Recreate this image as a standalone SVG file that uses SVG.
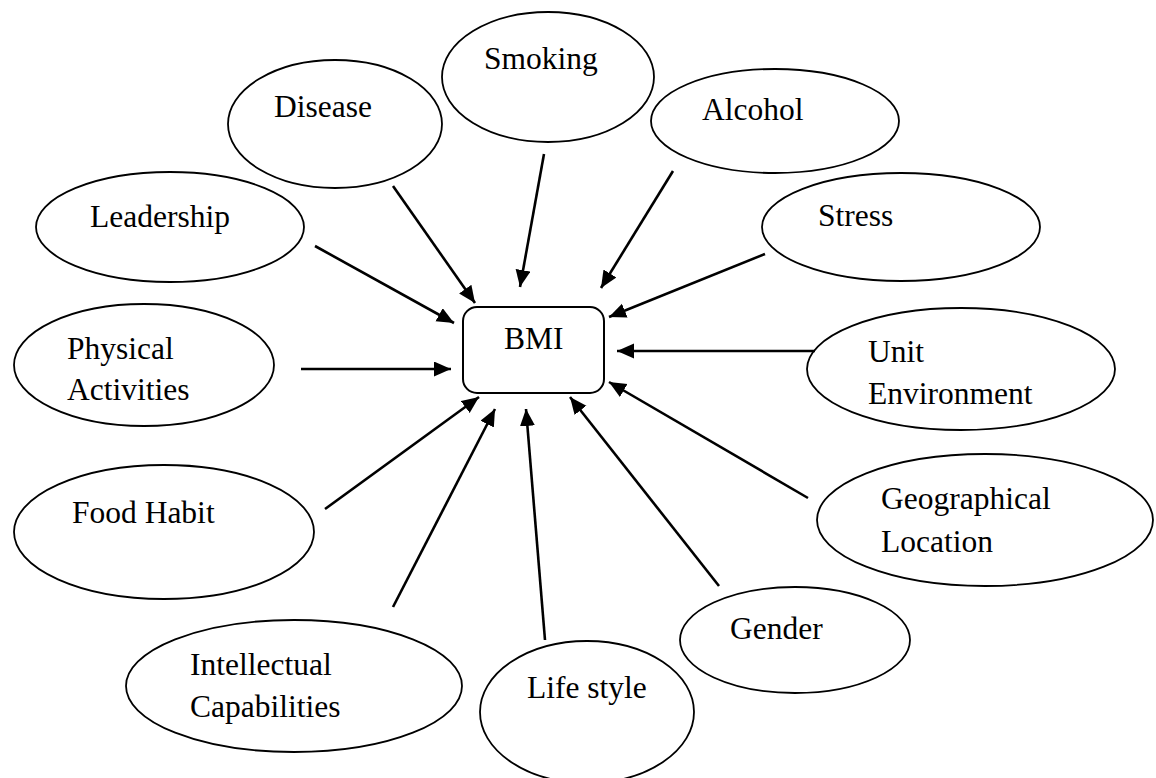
<svg xmlns="http://www.w3.org/2000/svg" width="1156" height="778" viewBox="0 0 1156 778">
<style>
.n ellipse{fill:#fff;stroke:#000;stroke-width:1.8}
.box{fill:#fff;stroke:#000;stroke-width:2}
text{font-family:"Liberation Serif","Times New Roman",serif;font-size:31.5px;fill:#000}
.c line{stroke:#000;stroke-width:2.6;marker-end:url(#ah)}
</style>
<defs>
<marker id="ah" markerUnits="userSpaceOnUse" markerWidth="18" markerHeight="16" refX="17" refY="7.5" orient="auto">
<path d="M0,0 L17,7.5 L0,15 z" fill="#000"/>
</marker>
</defs>
<rect width="1156" height="778" fill="#fff"/>
<g id="node-smoking" class="n"><ellipse cx="548" cy="77" rx="106" ry="65"/><text x="484" y="69">Smoking</text></g>
<g id="node-disease" class="n"><ellipse cx="335" cy="124" rx="107" ry="64"/><text x="274" y="117">Disease</text></g>
<g id="node-alcohol" class="n"><ellipse cx="775" cy="121" rx="124" ry="52"/><text x="702" y="120">Alcohol</text></g>
<g id="node-leadership" class="n"><ellipse cx="170" cy="227" rx="134" ry="55"/><text x="90" y="227">Leadership</text></g>
<g id="node-stress" class="n"><ellipse cx="901" cy="227" rx="139" ry="54"/><text x="818" y="226">Stress</text></g>
<g id="node-physical" class="n"><ellipse cx="144" cy="365" rx="130" ry="61"/><text x="67" y="359">Physical</text><text x="67" y="400">Activities</text></g>
<g id="node-unit" class="n"><ellipse cx="961" cy="369" rx="154" ry="61"/><text x="868" y="362">Unit</text><text x="868" y="404">Environment</text></g>
<g id="node-food" class="n"><ellipse cx="164" cy="532" rx="150" ry="67"/><text x="72" y="523">Food Habit</text></g>
<g id="node-geo" class="n"><ellipse cx="985" cy="520" rx="168" ry="66"/><text x="881" y="509">Geographical</text><text x="881" y="552">Location</text></g>
<g id="node-gender" class="n"><ellipse cx="795" cy="640" rx="115" ry="53"/><text x="730" y="639">Gender</text></g>
<g id="node-intellectual" class="n"><ellipse cx="294" cy="686" rx="168" ry="66"/><text x="190" y="675">Intellectual</text><text x="190" y="717">Capabilities</text></g>
<g id="node-lifestyle" class="n"><ellipse cx="587" cy="712" rx="107" ry="71"/><text x="527" y="698">Life style</text></g>
<g id="node-bmi"><rect class="box" x="463" y="307" width="141" height="86" rx="14"/><text x="504" y="349">BMI</text></g>
<g id="connectors" class="c">
<line x1="393" y1="186" x2="475" y2="303"/>
<line x1="544" y1="154" x2="520" y2="287"/>
<line x1="673" y1="171" x2="601" y2="288"/>
<line x1="315" y1="246" x2="454" y2="323"/>
<line x1="765" y1="254" x2="609" y2="317"/>
<line x1="301" y1="369" x2="451" y2="369"/>
<line x1="815" y1="351" x2="617" y2="351"/>
<line x1="325" y1="509" x2="479" y2="397"/>
<line x1="808" y1="498" x2="609" y2="382"/>
<line x1="719" y1="586" x2="570" y2="397"/>
<line x1="545" y1="640" x2="526" y2="409"/>
<line x1="393" y1="607" x2="495" y2="409"/>
</g>
</svg>
